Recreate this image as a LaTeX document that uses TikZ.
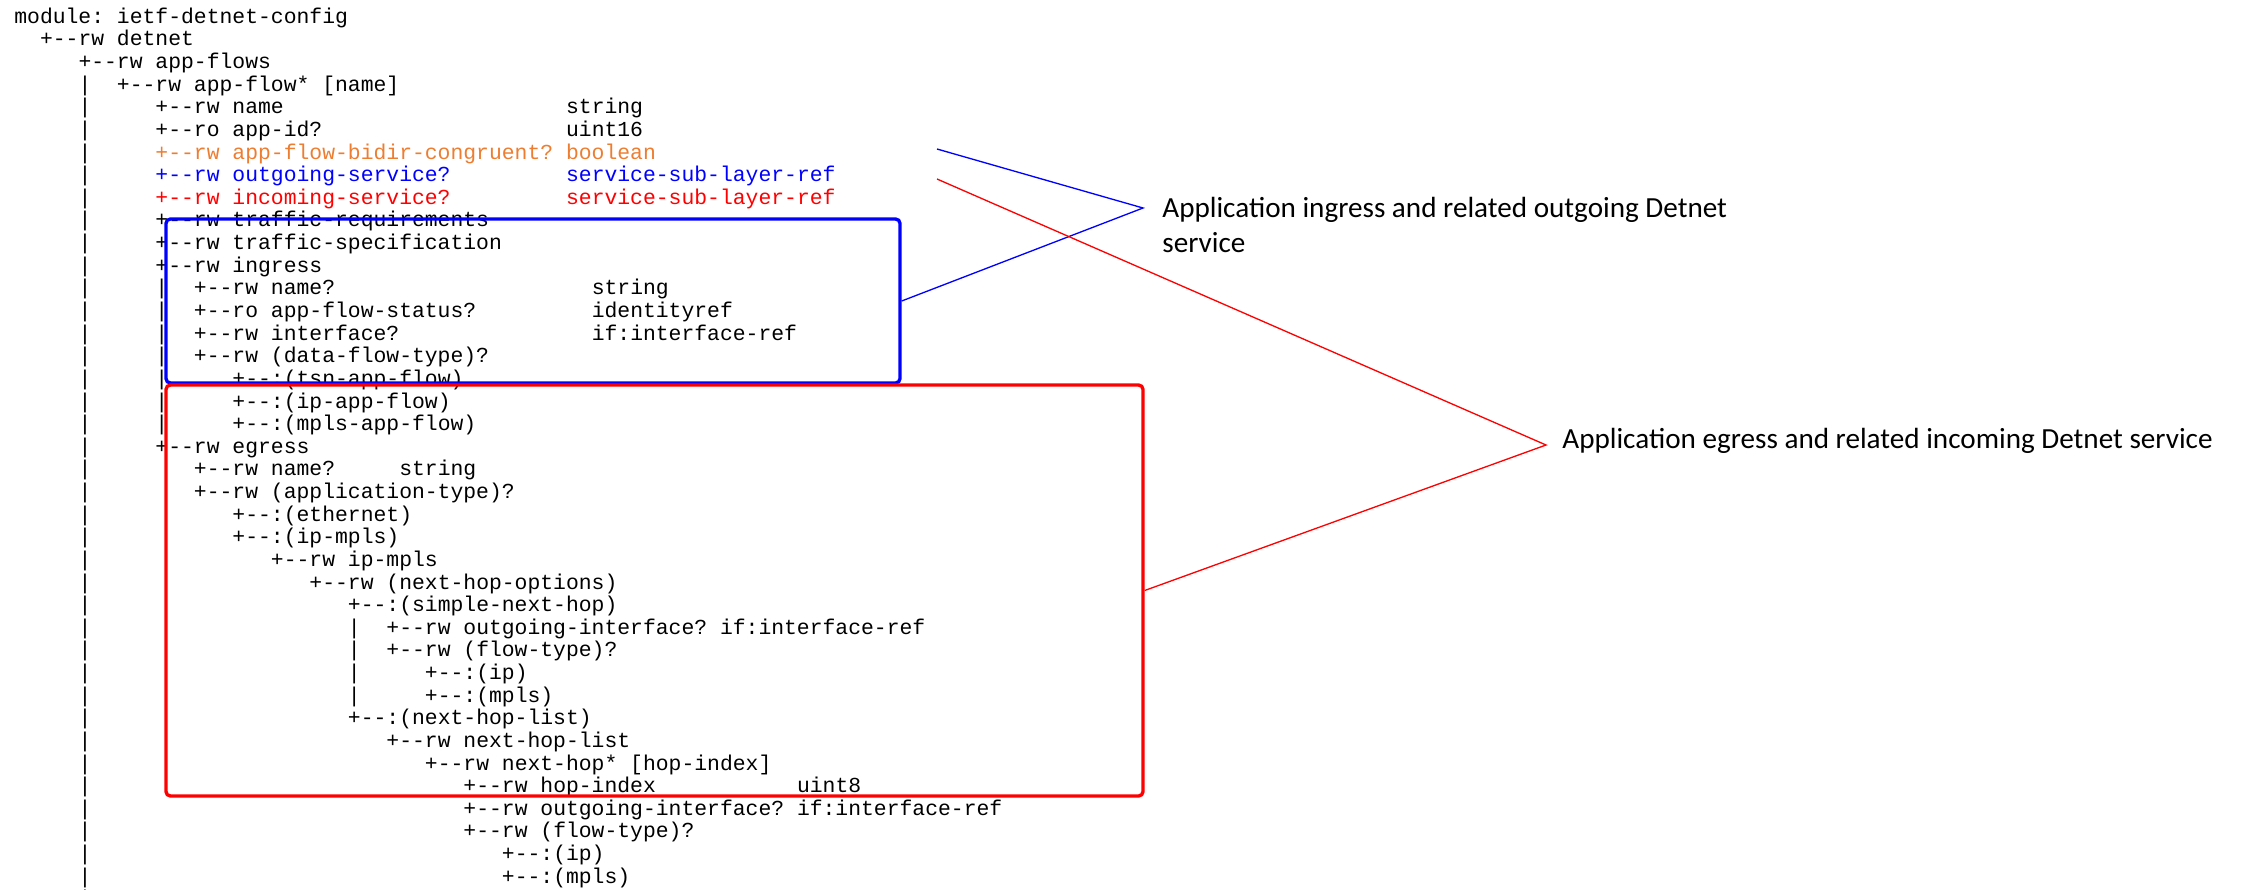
\documentclass[tikz,border=0pt]{standalone}
\usepackage{fontspec}
\setmainfont{Carlito}
\setmonofont{Liberation Mono}
\usepackage{fancyvrb}
\usetikzlibrary{positioning, fit}
\definecolor{CongruentColor}{RGB}{237, 125, 49}
\definecolor{IngressColor}{RGB}{0, 0, 255}
\definecolor{EgressColor}{RGB}{255, 0, 0}

\begin{document}
\begin{SaveVerbatim}[commandchars=\\\{\}]{yangtree}
module: ietf-detnet-config
  +--rw detnet
     +--rw app-flows
     |  +--rw app-flow* [name]
     |     +--rw name                      string
     |     +--ro app-id?                   uint16
     |     \textcolor{CongruentColor}{+--rw app-flow-bidir-congruent? boolean}
     |     \textcolor{IngressColor}{+--rw outgoing-service?         service-sub-layer-ref}
     |     \textcolor{EgressColor}{+--rw incoming-service?         service-sub-layer-ref}
     |     +--rw traffic-requirements
     |     +--rw traffic-specification
     |     +--rw ingress
     |     |  +--rw name?                    string
     |     |  +--ro app-flow-status?         identityref
     |     |  +--rw interface?               if:interface-ref
     |     |  +--rw (data-flow-type)?
     |     |     +--:(tsn-app-flow)
     |     |     +--:(ip-app-flow)
     |     |     +--:(mpls-app-flow)
     |     +--rw egress
     |        +--rw name?     string
     |        +--rw (application-type)?
     |           +--:(ethernet)
     |           +--:(ip-mpls)
     |              +--rw ip-mpls
     |                 +--rw (next-hop-options)
     |                    +--:(simple-next-hop)
     |                    |  +--rw outgoing-interface? if:interface-ref
     |                    |  +--rw (flow-type)?
     |                    |     +--:(ip)
     |                    |     +--:(mpls)
     |                    +--:(next-hop-list)
     |                       +--rw next-hop-list
     |                          +--rw next-hop* [hop-index]
     |                             +--rw hop-index           uint8
     |                             +--rw outgoing-interface? if:interface-ref
     |                             +--rw (flow-type)?
     |                                +--:(ip)
     |                                +--:(mpls)
     |
\end{SaveVerbatim}
\begin{tikzpicture}[x=0.02cm, y=-0.02cm,
  yangtext/.style={inner sep=0pt, font=\fontsize{12.17}{12.88}\selectfont},
  ingbox/.style={draw=IngressColor, line width=1.9pt, rounded corners=2.5pt, inner sep=0pt},
  egbox/.style={draw=EgressColor, line width=1.9pt, rounded corners=2.5pt, inner sep=0pt},
  conn/.style={line width=0.75pt},
  lbl/.style={inner sep=0pt, align=left, font=\fontsize{16.6}{19.9}\selectfont}]

\useasboundingbox (0,0) rectangle (2243,889);

\node[yangtext, anchor=base west] (tree) at (14,23.3) {\BUseVerbatim[commandchars=\\\{\}, baseline=t]{yangtree}};

\coordinate (ingNW) at (166,219);
\coordinate (ingSE) at (900,383);
\coordinate (egNW) at (166,385);
\coordinate (egSE) at (1143,796);

\node[ingbox, fit=(ingNW)(ingSE)] (ing) {};
\node[egbox, fit=(egNW)(egSE)] (eg) {};

\coordinate (outsvc) at (937,149);
\coordinate (insvc) at (937,179);
\coordinate (ingtip) at (1143,208);
\coordinate (egtip) at (1546,445);

% base of a two-line label is its last line
\node[lbl, anchor=base west] (inglbl) at (1162,252) {Application ingress and related outgoing Detnet\\service};
\node[lbl, anchor=base west] (eglbl) at (1562,448) {Application egress and related incoming Detnet service};

\draw[conn, IngressColor] (outsvc) -- (ingtip) -- (ing.east);
\draw[conn, EgressColor] (insvc) -- (egtip) -- (eg.east);

\end{tikzpicture}
\end{document}
